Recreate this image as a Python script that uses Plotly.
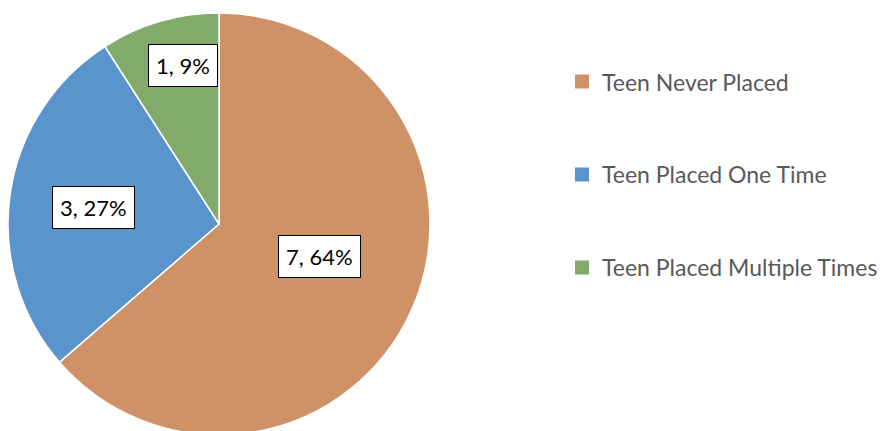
import math
import plotly.graph_objects as go

categories = ["Teen Never Placed", "Teen Placed One Time", "Teen Placed Multiple Times"]
counts = [7, 3, 1]
colors = ["#CF9266", "#5A94CC", "#82AA6A"]
label_radius = [0.50, 0.60, 0.77]   # fraction of radius where each data label sits
label_turn = [-6.5, -0.5, 3.6]      # small angular nudge (degrees) for each label

W, H = 895, 431
dom_x = [0.0, 0.4715]
dom_y = [0.0092, 0.9884]

fig = go.Figure()
fig.add_trace(go.Pie(
    labels=categories,
    values=counts,
    sort=False,
    direction="clockwise",
    rotation=0,
    marker=dict(colors=colors, line=dict(color="#ffffff", width=1.5)),
    textinfo="none",
    hoverinfo="label+value+percent",
    showlegend=False,
    domain=dict(x=dom_x, y=dom_y),
))

# legend entries via invisible scatter traces so they can be spread out
for cat, col in zip(categories, colors):
    fig.add_trace(go.Scatter(
        x=[None], y=[None], mode="markers", name=cat, legendgroup=cat,
        marker=dict(symbol="square", size=14, color=col),
    ))

# boxed data labels placed near each slice's mid angle
total = sum(counts)
cx = (dom_x[0] + dom_x[1]) / 2
cy = (dom_y[0] + dom_y[1]) / 2
R = min((dom_y[1] - dom_y[0]) * H, (dom_x[1] - dom_x[0]) * W) / 2
start = 0.0
for v, frac, turn in zip(counts, label_radius, label_turn):
    mid = (start + v / 2) / total * 2 * math.pi + math.radians(turn)
    start += v
    dx = math.sin(mid) * R * frac
    dy = math.cos(mid) * R * frac
    pct = round(v / total * 100)
    fig.add_annotation(
        x=cx + dx / W, y=cy + dy / H, xref="paper", yref="paper",
        xanchor="center", yanchor="middle",
        text=f"{v}, {pct}%", showarrow=False,
        font=dict(family="Lato, 'Open Sans', sans-serif", size=22, color="#000000"),
        bgcolor="#ffffff", bordercolor="#000000", borderwidth=1, borderpad=7,
    )

fig.update_layout(
    width=W, height=H,
    margin=dict(l=0, r=0, t=0, b=0),
    paper_bgcolor="#ffffff", plot_bgcolor="#ffffff",
    xaxis=dict(visible=False, domain=[0.6, 1.0]),
    yaxis=dict(visible=False),
    font=dict(family="Lato, 'Open Sans', sans-serif"),
    legend=dict(
        x=0.619, y=0.879, xanchor="left", yanchor="top",
        font=dict(size=23, color="#595959"),
        tracegroupgap=60, itemwidth=30,
        bgcolor="rgba(0,0,0,0)",
    ),
)

fig.write_html("out.html")
